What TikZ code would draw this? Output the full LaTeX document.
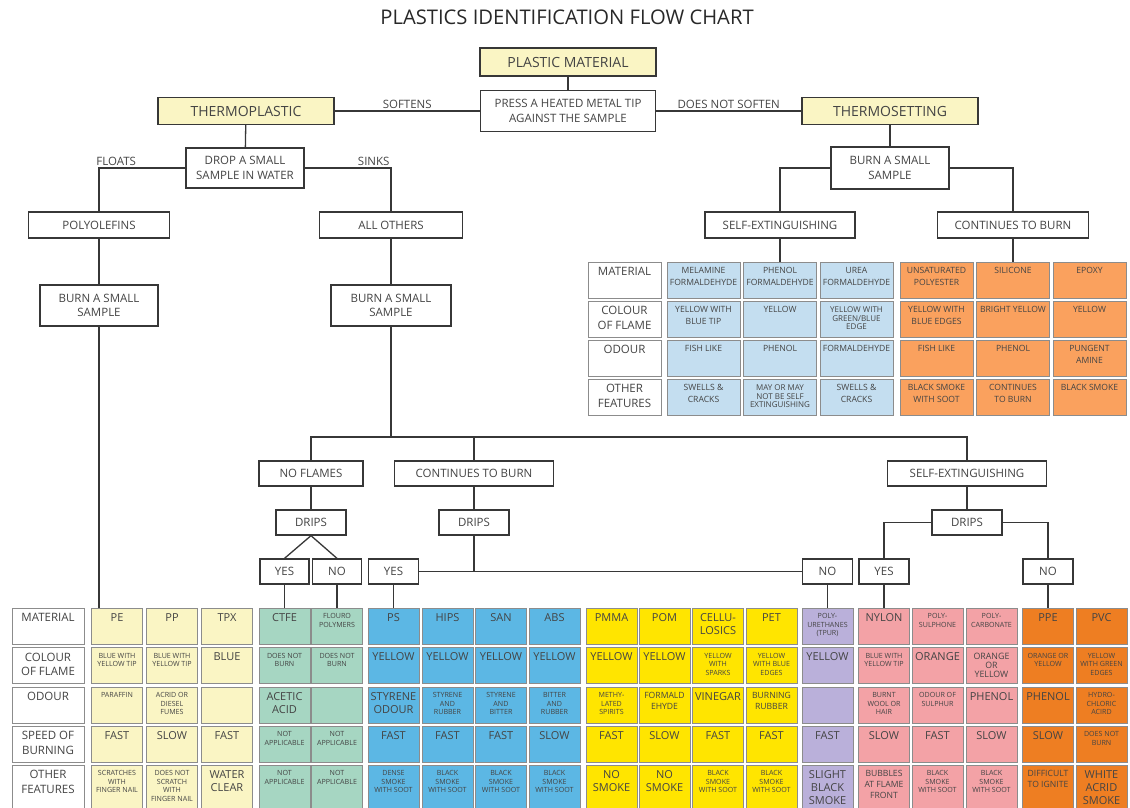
\documentclass[tikz,border=0pt]{standalone}
\usepackage{fontspec}
\setmainfont{Open Sans}
\usetikzlibrary{positioning,calc}

\definecolor{paleyellow}{RGB}{250,245,196}
\definecolor{mint}{RGB}{166,214,194}
\definecolor{skyblue}{RGB}{92,183,228}
\definecolor{lemon}{RGB}{255,229,0}
\definecolor{lavender}{RGB}{186,176,218}
\definecolor{rosepink}{RGB}{243,162,166}
\definecolor{deeporange}{RGB}{238,126,34}
\definecolor{paleblue}{RGB}{196,222,240}
\definecolor{softorange}{RGB}{250,161,94}
\definecolor{cellgray}{RGB}{140,140,140}
\definecolor{linegray}{RGB}{55,55,55}
\definecolor{txtgray}{RGB}{68,68,68}
\definecolor{titlegray}{RGB}{40,40,40}

\newcommand{\fbig}{\fontsize{11}{13}\selectfont}
\newcommand{\fmid}{\fontsize{8.6}{10.8}\selectfont}
\newcommand{\fsmall}{\fontsize{7.1}{8.5}\selectfont}
\newcommand{\fset}{\fontsize{8.6}{12}\selectfont}
\newcommand{\fsetc}{\fontsize{8}{8.7}\selectfont}
\newcommand{\fhead}{\fontsize{11.5}{14.5}\selectfont}

% top aligned cell text
\newcommand{\cellbox}[3]{\parbox[c][#2][t]{#1}{\centering\vskip5.5pt #3\par}}

% one column of the thermoplastic table
\newcommand{\plcol}[8]{%
  \node[cell=#3] (#1-mat) at (#2,626) {\cellbox{51pt}{36pt}{#4}};
  \node[cell=#3] (#1-col) at (#2,665.5) {\cellbox{51pt}{36pt}{#5}};
  \node[cell=#3] (#1-odo) at (#2,705) {\cellbox{51pt}{36pt}{#6}};
  \node[cell=#3] (#1-spd) at (#2,744) {\cellbox{51pt}{36pt}{#7}};
  \node[cell=#3] (#1-oth) at (#2,788) {\cellbox{51pt}{46pt}{#8}};
}

% one column of the thermosetting table
\newcommand{\tscol}[7]{%
  \node[cell=#3] (#1-mat) at (#2,280) {\cellbox{73pt}{36pt}{\fset #4}};
  \node[cell=#3] (#1-col) at (#2,319) {\cellbox{73pt}{36pt}{\fset #5}};
  \node[cell=#3] (#1-odo) at (#2,358) {\cellbox{73pt}{36pt}{\fset #6}};
  \node[cell=#3] (#1-oth) at (#2,397) {\cellbox{73pt}{36pt}{\fset #7}};
}

\begin{document}
\begin{tikzpicture}[x=1pt, y=-1pt,
    flowbox/.style={rectangle, draw=linegray, line width=1.3pt, fill=white, inner sep=0pt,
                    align=center, font=\fhead, text=txtgray},
    headbox/.style={flowbox, fill=paleyellow, font=\fontsize{14}{16}\selectfont},
    cell/.style={rectangle, draw=cellgray, line width=0.7pt, fill=#1, inner sep=0pt, text=txtgray},
    link/.style={draw=linegray, line width=1.3pt},
    lbl/.style={font=\fhead, text=txtgray, inner sep=2pt}
]

\useasboundingbox (0,0) rectangle (1130,807);

% Title
\node[font=\fontsize{20.2}{23}\selectfont, text=titlegray] (title) at (567,17) {PLASTICS IDENTIFICATION FLOW CHART};

% First test
\node[headbox, minimum width=176, minimum height=28] (pm) at (568,62) {PLASTIC MATERIAL};
\node[flowbox, minimum width=175, minimum height=41] (press) at (568,111) {PRESS A HEATED METAL TIP\\AGAINST THE SAMPLE};
\node[headbox, minimum width=176, minimum height=27] (tplastic) at (246,111) {THERMOPLASTIC};
\node[headbox, minimum width=176, minimum height=27] (tsetting) at (890,111) {THERMOSETTING};

% Thermoplastic branch
\node[flowbox, minimum width=118, minimum height=40] (drop) at (245,168) {DROP A SMALL\\SAMPLE IN WATER};
\node[flowbox, minimum width=141, minimum height=26] (polyo) at (99,225) {POLYOLEFINS};
\node[flowbox, minimum width=143, minimum height=26] (allo) at (391,225) {ALL OTHERS};
\node[flowbox, minimum width=118, minimum height=41] (burnL) at (99,305.5) {BURN A SMALL\\SAMPLE};
\node[flowbox, minimum width=120, minimum height=41] (burnR) at (391,305.5) {BURN A SMALL\\SAMPLE};

% Thermosetting branch
\node[flowbox, minimum width=118, minimum height=42] (burnT) at (890,168) {BURN A SMALL\\SAMPLE};
\node[flowbox, minimum width=150, minimum height=26] (seT) at (780,225) {SELF-EXTINGUISHING};
\node[flowbox, minimum width=151, minimum height=26] (ctbT) at (1013,225) {CONTINUES TO BURN};

% Burning results
\node[flowbox, minimum width=104, minimum height=25] (nofl) at (311,473.5) {NO FLAMES};
\node[flowbox, minimum width=159, minimum height=25] (ctbM) at (474,473.5) {CONTINUES TO BURN};
\node[flowbox, minimum width=159, minimum height=25] (seM) at (967,473.5) {SELF-EXTINGUISHING};
\node[flowbox, minimum width=70, minimum height=25] (dripsA) at (311,522.5) {DRIPS};
\node[flowbox, minimum width=70, minimum height=25] (dripsB) at (474,522.5) {DRIPS};
\node[flowbox, minimum width=70, minimum height=25] (dripsC) at (967,522.5) {DRIPS};
\node[flowbox, minimum width=49, minimum height=25] (yesA) at (284.5,571.5) {YES};
\node[flowbox, minimum width=49, minimum height=25] (noA) at (337,571.5) {NO};
\node[flowbox, minimum width=50, minimum height=25] (yesB) at (393.5,571.5) {YES};
\node[flowbox, minimum width=50, minimum height=25] (noB) at (827.5,571.5) {NO};
\node[flowbox, minimum width=50, minimum height=25] (yesC) at (884,571.5) {YES};
\node[flowbox, minimum width=50, minimum height=25] (noC) at (1048,571.5) {NO};

% Thermosetting table
\node[cell=white] (tlab-mat) at (624.5,280) {\cellbox{73pt}{36pt}{\fhead MATERIAL}};
\node[cell=white] (tlab-col) at (624.5,319) {\cellbox{73pt}{36pt}{\fhead COLOUR\\OF FLAME}};
\node[cell=white] (tlab-odo) at (624.5,358) {\cellbox{73pt}{36pt}{\fhead ODOUR}};
\node[cell=white] (tlab-oth) at (624.5,397) {\cellbox{73pt}{36pt}{\fhead OTHER\\FEATURES}};
\tscol{mela}{703.5}{paleblue}{MELAMINE\\FORMALDEHYDE}{YELLOW WITH\\BLUE TIP}{FISH LIKE}{SWELLS \&\\CRACKS}
\tscol{phen}{780}{paleblue}{PHENOL\\FORMALDEHYDE}{YELLOW}{PHENOL}{\fsetc MAY OR MAY\\NOT BE SELF\\EXTINGUISHING}
\tscol{urea}{856.5}{paleblue}{UREA\\FORMALDEHYDE}{\fsetc YELLOW WITH\\GREEN/BLUE\\EDGE}{FORMALDEHYDE}{SWELLS \&\\CRACKS}
\tscol{upol}{936.5}{softorange}{UNSATURATED\\POLYESTER}{YELLOW WITH\\BLUE EDGES}{FISH LIKE}{BLACK SMOKE\\WITH SOOT}
\tscol{sili}{1013}{softorange}{SILICONE}{BRIGHT YELLOW}{PHENOL}{CONTINUES\\TO BURN}
\tscol{epox}{1089.5}{softorange}{EPOXY}{YELLOW}{PUNGENT\\AMINE}{BLACK SMOKE}

% Thermoplastic table
\node[cell=white] (lab-mat) at (48,626) {\cellbox{72pt}{36pt}{\fhead MATERIAL}};
\node[cell=white] (lab-col) at (48,665.5) {\cellbox{72pt}{36pt}{\fhead COLOUR\\OF FLAME}};
\node[cell=white] (lab-odo) at (48,705) {\cellbox{72pt}{36pt}{\fhead ODOUR}};
\node[cell=white] (lab-spd) at (48,744) {\cellbox{72pt}{36pt}{\fhead SPEED OF\\BURNING}};
\node[cell=white] (lab-oth) at (48,788) {\cellbox{72pt}{46pt}{\fhead OTHER\\FEATURES}};
\plcol{pe}{117}{paleyellow}{\fbig PE}{\fsmall BLUE WITH\\YELLOW TIP}{\fsmall PARAFFIN}{\fbig FAST}{\fsmall SCRATCHES\\WITH\\FINGER NAIL}
\plcol{pp}{172}{paleyellow}{\fbig PP}{\fsmall BLUE WITH\\YELLOW TIP}{\fsmall ACRID OR\\DIESEL\\FUMES}{\fbig SLOW}{\fsmall DOES NOT\\SCRATCH\\WITH\\FINGER NAIL}
\plcol{tpx}{227}{paleyellow}{\fbig TPX}{\fbig BLUE}{\mbox{}}{\fbig FAST}{\fbig WATER\\CLEAR}
\plcol{ctfe}{284.5}{mint}{\fbig CTFE}{\fsmall DOES NOT\\BURN}{\fbig ACETIC\\ACID}{\fsmall NOT\\APPLICABLE}{\fsmall NOT\\APPLICABLE}
\plcol{fluo}{337}{mint}{\fsmall FLOURO\\POLYMERS}{\fsmall DOES NOT\\BURN}{\mbox{}}{\fsmall NOT\\APPLICABLE}{\fsmall NOT\\APPLICABLE}
\plcol{ps}{393.5}{skyblue}{\fbig PS}{\fbig YELLOW}{\fbig STYRENE\\ODOUR}{\fbig FAST}{\fsmall DENSE\\SMOKE\\WITH SOOT}
\plcol{hips}{447.5}{skyblue}{\fbig HIPS}{\fbig YELLOW}{\fsmall STYRENE\\AND\\RUBBER}{\fbig FAST}{\fsmall BLACK\\SMOKE\\WITH SOOT}
\plcol{san}{501}{skyblue}{\fbig SAN}{\fbig YELLOW}{\fsmall STYRENE\\AND\\BITTER}{\fbig FAST}{\fsmall BLACK\\SMOKE\\WITH SOOT}
\plcol{abs}{554.5}{skyblue}{\fbig ABS}{\fbig YELLOW}{\fsmall BITTER\\AND\\RUBBER}{\fbig SLOW}{\fsmall BLACK\\SMOKE\\WITH SOOT}
\plcol{pmma}{611.5}{lemon}{\fbig PMMA}{\fbig YELLOW}{\fsmall METHY-\\LATED\\SPIRITS}{\fbig FAST}{\fbig NO\\SMOKE}
\plcol{pom}{664.5}{lemon}{\fbig POM}{\fbig YELLOW}{\fmid FORMALD\\EHYDE}{\fbig SLOW}{\fbig NO\\SMOKE}
\plcol{cell}{718}{lemon}{\fbig CELLU-\\LOSICS}{\fsmall YELLOW\\WITH\\SPARKS}{\fbig VINEGAR}{\fbig FAST}{\fsmall BLACK\\SMOKE\\WITH SOOT}
\plcol{pet}{771.5}{lemon}{\fbig PET}{\fsmall YELLOW\\WITH BLUE\\EDGES}{\fmid BURNING\\RUBBER}{\fbig FAST}{\fsmall BLACK\\SMOKE\\WITH SOOT}
\plcol{pu}{827.5}{lavender}{\fsmall POLY-\\URETHANES\\(TPUR)}{\fbig YELLOW}{\mbox{}}{\fbig FAST}{\fbig SLIGHT\\BLACK\\SMOKE}
\plcol{nyl}{884}{rosepink}{\fbig NYLON}{\fsmall BLUE WITH\\YELLOW TIP}{\fsmall BURNT\\WOOL OR\\HAIR}{\fbig SLOW}{\fmid BUBBLES\\AT FLAME\\FRONT}
\plcol{psu}{937.5}{rosepink}{\fsmall POLY-\\SULPHONE}{\fbig ORANGE}{\fsmall ODOUR OF\\SULPHUR}{\fbig FAST}{\fsmall BLACK\\SMOKE\\WITH SOOT}
\plcol{pc}{991.5}{rosepink}{\fsmall POLY-\\CARBONATE}{\fontsize{8.8}{9.2}\selectfont ORANGE\\OR\\YELLOW}{\fbig PHENOL}{\fbig SLOW}{\fsmall BLACK\\SMOKE\\WITH SOOT}
\plcol{ppe}{1048}{deeporange}{\fbig PPE}{\fsmall ORANGE OR\\YELLOW}{\fbig PHENOL}{\fbig SLOW}{\fmid DIFFICULT\\TO IGNITE}
\plcol{pvc}{1101.5}{deeporange}{\fbig PVC}{\fsmall YELLOW\\WITH GREEN\\EDGES}{\fsmall HYDRO-\\CHLORIC\\ACIRD}{\fsmall DOES NOT\\BURN}{\fbig WHITE\\ACRID\\SMOKE}

% Connections
\draw[link] (pm) -- (press);
\draw[link] (tplastic) -- node[lbl, above] (softens) {SOFTENS} (press);
\draw[link] (press) -- node[lbl, above] (nosoften) {DOES NOT SOFTEN} (tsetting);
\draw[link] (tplastic) -- (drop);
\draw[link] (drop.west) -| node[lbl, above, pos=0.4] (floats) {FLOATS} (polyo.north);
\draw[link] (drop.east) -| node[lbl, above, pos=0.4] (sinks) {SINKS} (allo.north);
\draw[link] (polyo) -- (burnL);
\draw[link] (allo) -- (burnR);
\draw[link] (burnL.south) -- (burnL.south |- pe-mat.north);
\draw[link] (tsetting) -- (burnT);
\draw[link] (burnT.west) -| (seT.north);
\draw[link] (burnT.east) -| (ctbT.north);
\draw[link] (seT) -- (phen-mat);
\draw[link] (ctbT) -- (sili-mat);

\coordinate (bar) at (391,437);
\draw[link] (burnR) -- (bar);
\draw[link] (nofl.north) |- (bar) -| (seM.north);
\draw[link] (ctbM.north) -- (ctbM.north |- bar);
\draw[link] (nofl) -- (dripsA);
\draw[link] (ctbM) -- (dripsB);
\draw[link] (seM) -- (dripsC);
\draw[link] (dripsA.south) -- (yesA.north);
\draw[link] (dripsA.south) -- (noA.north);
\draw[link] (dripsB.south) -- (dripsB.south |- yesB.east);
\draw[link] (yesB) -- (noB);
\draw[link] (dripsC.west) -| (yesC.north);
\draw[link] (dripsC.east) -| (noC.north);
\draw[link] (yesA) -- (ctfe-mat);
\draw[link] (noA) -- (fluo-mat);
\draw[link] (yesB) -- (ps-mat);
\draw[link] (noB) -- (pu-mat);
\draw[link] (yesC) -- (nyl-mat);
\draw[link] (noC) -- (ppe-mat);

\end{tikzpicture}
\end{document}
